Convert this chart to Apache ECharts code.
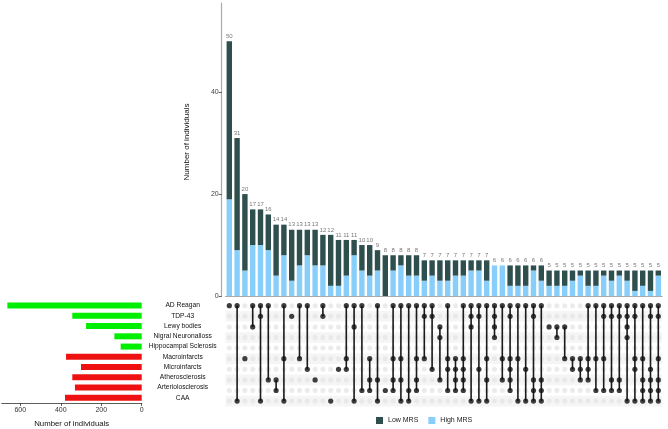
<!DOCTYPE html>
<html><head><meta charset="utf-8">
<script src="https://cdn.jsdelivr.net/npm/echarts@6/dist/echarts.min.js"></script>
<style>html,body{margin:0;padding:0;background:#fff}#c{width:668px;height:429px}</style>
</head><body><div id="c"></div>
<script>
// ---------- data ----------
const setNames = ['AD Reagan','TDP-43','Lewy bodies','Nigral Neuronalloss','Hippocampal Sclerosis',
  'Macroinfarcts','Microinfarcts','Atherosclerosis','Arteriolosclerosis','CAA'];
const setSizes = [664,343,275,135,104,374,300,343,330,379];
const setGroup = ['neuro','neuro','neuro','neuro','neuro','vasc','vasc','vasc','vasc','vasc'];
const totals = [50,31,20,17,17,16,14,14,13,13,13,13,12,12,11,11,11,10,10,9,
  8,8,8,8,8,7,7,7,7,7,7,7,7,7,6,6,6,6,6,6,6,5,5,5,5,5,5,5,5,5,5,5,5,5,5,5];
const highMRS = [19,9,5,10,10,9,4,8,3,6,8,6,6,2,2,4,8,5,4,5,
  0,5,6,4,4,3,4,3,3,4,4,5,5,3,6,6,2,2,2,5,3,2,2,2,3,4,2,2,4,3,4,3,1,2,1,4];
const lowMRS = [31,22,15,7,7,7,10,6,10,7,5,7,6,10,9,7,3,5,6,4,
  8,3,2,4,4,4,3,4,4,3,3,2,2,4,0,0,4,4,4,1,3,3,3,3,2,1,3,3,1,2,1,2,4,3,4,1];
// row indices: 0 AD,1 TDP,2 Lewy,3 Nigral,4 Hippo,5 Macro,6 Micro,7 Athero,8 Arterio,9 CAA
const members = [
  [0],[0,9],[5],[0,2],[0,1,9],[0,7],[7,8],[0,5,9],[1],[0,5],
  [0,6],[7],[0,1],[9],[6],[0,5,6],[0,2,9],[0,8],[5,7,8],[0,7,9],
  [8],[0,5,7,8],[0,5,7,9],[0,8,9],[0,5,7,8],[0,1,5],[0,1,6],[2,3,7],[0,5,6,8],[5,6,7,8],
  [0,5,6,7,8],[0,1,2,9],[0,1,6,9],[0,5,7,9],[0,1,2,3],[0,5,7],[0,1,5,6,7,8],[0,5,9],[0,6,9],[0,1,7,8,9],
  [0,7,8,9],[2],[2,3],[2,5],[5,6],[5,6,7],[0,5,6,7],[0,5,8],[0,1,5,8],[0,1,7,8],
  [0,1,7,8],[0,1,2,3,9],[0,1,5,6,9],[0,5,7,8,9],[0,1,6,7,8,9],[0,1,5,7,8,9]
];
const neuroColor = '#00ee00', vascColor = '#ee1111';
const lowColor = '#2f4f4f', highColor = '#87cefa';

// ---------- derived drawing data ----------
const N = totals.length;
const cats = totals.map((_, i) => String(i + 1));
const greyDots = [], blackDots = [], segs = [];
for (let c = 0; c < N; c++) {
  for (let r = 0; r < setNames.length; r++) greyDots.push([c, r]);
  members[c].forEach(r => blackDots.push([c, r]));
  if (members[c].length > 1) segs.push([c, Math.min(...members[c]), Math.max(...members[c])]);
}
const stripeRows = [1, 3, 5, 7, 9];

const FONT = "'Liberation Sans', Arial, Helvetica, sans-serif";
const chart = echarts.init(document.getElementById('c'));
const gL = 225.4, gW = 436.8, mTop = 300.4, mH = 106;

chart.setOption({
  animation: false,
  textStyle: { fontFamily: FONT },
  legend: {
    left: 371, top: 412, itemWidth: 7, itemHeight: 7, itemGap: 10,
    textStyle: { fontSize: 7, color: '#222', fontFamily: FONT },
    data: [{ name: 'Low MRS', icon: 'rect' }, { name: 'High MRS', icon: 'rect' }]
  },
  grid: [
    { left: gL, top: 3, width: gW, height: 293 },
    { left: gL, top: mTop, width: gW, height: mH },
    { left: 1.7, top: mTop, width: 140, height: mH }
  ],
  xAxis: [
    { gridIndex: 0, type: 'category', data: cats, boundaryGap: true,
      axisLine: { lineStyle: { color: '#aaaaaa', width: 1.2 } }, axisTick: { show: false }, axisLabel: { show: false } },
    { gridIndex: 1, type: 'category', data: cats, boundaryGap: true, show: false },
    { gridIndex: 2, type: 'value', inverse: true, min: 0, max: 692,
      axisLine: { show: true, lineStyle: { color: '#333', width: 0.8 } },
      axisTick: { show: true, length: 3, customValues: [0, 200, 400, 600], lineStyle: { color: '#333', width: 0.8 } },
      axisLabel: { customValues: [0, 200, 400, 600], fontSize: 7, color: '#333', margin: 4 },
      splitLine: { show: false },
      name: 'Number of individuals', nameLocation: 'middle', nameGap: 17,
      nameTextStyle: { fontSize: 7.8, color: '#111' } }
  ],
  yAxis: [
    { gridIndex: 0, type: 'value', min: 0, max: 57.5, offset: 3.7,
      axisLine: { show: true, lineStyle: { color: '#aaaaaa', width: 1.2 } },
      axisTick: { show: true, length: 3, customValues: [0, 20, 40], lineStyle: { color: '#333', width: 0.8 } },
      axisLabel: { customValues: [0, 20, 40], fontSize: 7, color: '#444', margin: 3 },
      splitLine: { show: false } },
    { gridIndex: 1, type: 'category', data: setNames, inverse: true, show: false },
    { gridIndex: 2, type: 'category', data: setNames, inverse: true, position: 'right',
      axisLine: { show: false }, axisTick: { show: false },
      axisLabel: { align: 'center', margin: 41, fontSize: 6.7, color: '#111' } }
  ],
  graphic: [{
    type: 'text', x: 187, y: 142, rotation: Math.PI / 2,
    style: { text: 'Number of individuals', fontSize: 8, fill: '#111', fontFamily: FONT,
      align: 'center', verticalAlign: 'middle' }
  }],
  series: [
    { name: 'High MRS', type: 'bar', xAxisIndex: 0, yAxisIndex: 0, stack: 'mrs', barWidth: 5.4,
      itemStyle: { color: highColor }, data: highMRS },
    { name: 'Low MRS', type: 'bar', xAxisIndex: 0, yAxisIndex: 0, stack: 'mrs', barWidth: 5.4,
      itemStyle: { color: lowColor }, data: lowMRS },
    { name: 'totals', type: 'scatter', xAxisIndex: 0, yAxisIndex: 0, symbolSize: 0, silent: true,
      data: totals.map((v, i) => [i, v]),
      label: { show: true, position: 'top', distance: 2, fontSize: 6, color: '#555',
        formatter: p => p.value[1] } },
    { type: 'custom', xAxisIndex: 1, yAxisIndex: 1, silent: true, z: 0,
      data: stripeRows.map(r => [0, r]),
      renderItem: (params, api) => {
        const cs = params.coordSys;
        const y = api.coord([0, api.value(1)])[1];
        const h = api.size([0, 1])[1];
        return { type: 'rect', shape: { x: cs.x, y: y - h / 2, width: cs.width, height: h },
          style: { fill: '#f5f5f5' } };
      } },
    { type: 'scatter', xAxisIndex: 1, yAxisIndex: 1, symbolSize: 5, silent: true, z: 1,
      itemStyle: { color: '#e6e6e6' }, data: greyDots },
    { type: 'custom', xAxisIndex: 1, yAxisIndex: 1, silent: true, z: 2, data: segs,
      renderItem: (params, api) => {
        const p1 = api.coord([api.value(0), api.value(1)]);
        const p2 = api.coord([api.value(0), api.value(2)]);
        return { type: 'line', shape: { x1: p1[0], y1: p1[1], x2: p2[0], y2: p2[1] },
          style: { stroke: '#1a1a1a', lineWidth: 1.6 } };
      } },
    { type: 'scatter', xAxisIndex: 1, yAxisIndex: 1, symbolSize: 5.2, silent: true, z: 3,
      itemStyle: { color: '#111' }, data: blackDots },
    { type: 'bar', xAxisIndex: 2, yAxisIndex: 2, barWidth: 6, silent: true,
      data: setSizes.map((v, i) => ({ value: v, itemStyle: { color: setGroup[i] === 'neuro' ? neuroColor : vascColor } })) }
  ]
});
</script></body></html>
